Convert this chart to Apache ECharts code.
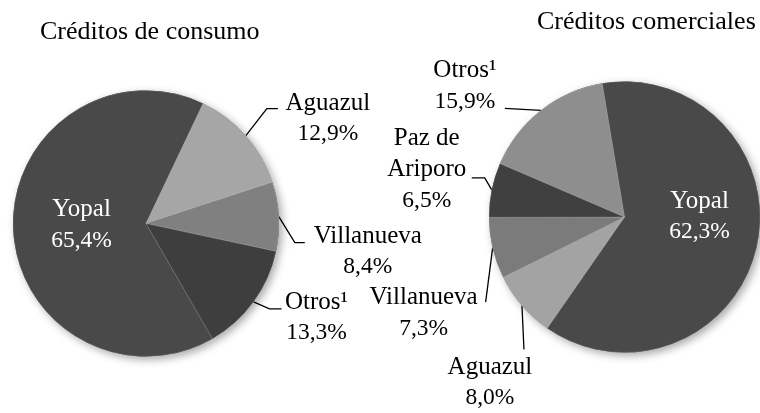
<!DOCTYPE html>
<html>
<head>
<meta charset="utf-8">
<script src="https://cdn.jsdelivr.net/npm/echarts@6/dist/echarts.min.js"></script>
<style>
html, body { margin: 0; padding: 0; background: #fff; }
#main { width: 760px; height: 413px; }
</style>
</head>
<body>
<div id="main"></div>
<script>
// Créditos de consumo
var consumoNames = ['Yopal', 'Aguazul', 'Villanueva', 'Otros¹'];
var consumoValues = [65.4, 12.9, 8.4, 13.3];
var consumoColors = ['#494949', '#a6a6a6', '#808080', '#3e3e3e'];

// Créditos comerciales
var comercialNames = ['Yopal', 'Aguazul', 'Villanueva', 'Paz de\nAriporo', 'Otros¹'];
var comercialValues = [62.3, 8.0, 7.3, 6.5, 15.9];
var comercialColors = ['#494949', '#a3a3a3', '#7b7b7b', '#404040', '#8e8e8e'];

var serif = '"Liberation Serif", "Times New Roman", serif';

// label placement: inside -> [dx, dy]; outside -> knee/end offsets of the leader
// line from the slice edge, text = [center x, top] relative to the line end
var consumoLayout = [
    {inside: [5, -1]},
    {knee: [21, -27], end: [11, 0], text: [50, -21]},
    {knee: [16, 26], end: [10, 0], text: [63, -22]},
    {knee: [16, 7], end: [12, 0], text: [35, -22]}
];
var comercialLayout = [
    {inside: [6, -16]},
    {knee: [2, 44], end: [0, 0], text: [-34, 2]},
    {knee: [-7, 54], end: [0, 0], text: [-62, -20]},
    {knee: [-7, -12], end: [-13, 0], text: [-45, -55]},
    {knee: [-36, -2], end: [0, 0], text: [-40, -53]}
];

function fmt(v) {
    return v.toFixed(1).replace('.', ',') + '%';
}

function buildData(names, values, colors, layout) {
    var out = [];
    for (var i = 0; i < names.length; i++) {
        var item = {name: names[i], value: values[i], itemStyle: {color: colors[i]}};
        if (layout[i].inside) {
            item.label = {position: 'inside', color: '#fff'};
            item.labelLine = {show: false};
        }
        out.push(item);
    }
    return out;
}

function labelLayoutFor(layout) {
    return function (params) {
        var cfg = layout[params.dataIndex];
        if (cfg.inside) {
            return {dx: cfg.inside[0], dy: cfg.inside[1]};
        }
        var p0 = params.labelLinePoints[0];
        var p1 = [p0[0] + cfg.knee[0], p0[1] + cfg.knee[1]];
        var p2 = [p1[0] + cfg.end[0], p1[1] + cfg.end[1]];
        return {
            x: p2[0] + cfg.text[0],
            y: p2[1] + cfg.text[1],
            align: 'center',
            verticalAlign: 'top',
            labelLinePoints: [p0, p1, p2]
        };
    };
}

function shadowSeries(values, center, radius, startAngle) {
    return {
        type: 'pie',
        silent: true,
        center: center,
        radius: radius,
        startAngle: startAngle,
        label: {show: false},
        labelLine: {show: false},
        itemStyle: {
            color: '#484848',
            shadowBlur: 8,
            shadowOffsetX: 3,
            shadowOffsetY: 3,
            shadowColor: 'rgba(0,0,0,0.35)'
        },
        data: values.slice()
    };
}

function pieSeries(names, values, colors, layout, center, radius, startAngle) {
    return {
        type: 'pie',
        center: center,
        radius: radius,
        startAngle: startAngle,
        clockwise: true,
        avoidLabelOverlap: false,
        itemStyle: {borderColor: 'rgba(255,255,255,0.25)', borderWidth: 0.6},
        label: {
            show: true,
            position: 'outside',
            fontFamily: serif,
            color: '#000',
            formatter: function (p) {
                var lines = p.name.split('\n').map(function (s) { return '{n|' + s + '}'; });
                return lines.join('\n') + '\n{v|' + fmt(p.value) + '}';
            },
            rich: {
                n: {fontFamily: serif, fontSize: 25, lineHeight: 31},
                v: {fontFamily: serif, fontSize: 23.5, lineHeight: 31}
            }
        },
        labelLine: {show: true, lineStyle: {color: '#000', width: 1.3}},
        labelLayout: labelLayoutFor(layout),
        data: buildData(names, values, colors, layout)
    };
}

var titleStyle = {fontFamily: serif, fontSize: 26, fontWeight: 'normal', color: '#000'};

var chart = echarts.init(document.getElementById('main'));
chart.setOption({
    animation: false,
    title: [
        {text: 'Créditos de consumo', left: 40, top: 19, padding: 0, textStyle: titleStyle},
        {text: 'Créditos comerciales', left: 537, top: 9, padding: 0, textStyle: titleStyle}
    ],
    series: [
        shadowSeries(consumoValues, [146, 223.5], 133, -60),
        pieSeries(consumoNames, consumoValues, consumoColors, consumoLayout, [146, 223.5], 133, -60),
        shadowSeries(comercialValues, [624.5, 217], 135.5, 99.5),
        pieSeries(comercialNames, comercialValues, comercialColors, comercialLayout, [624.5, 217], 135.5, 99.5)
    ]
});
</script>
</body>
</html>
